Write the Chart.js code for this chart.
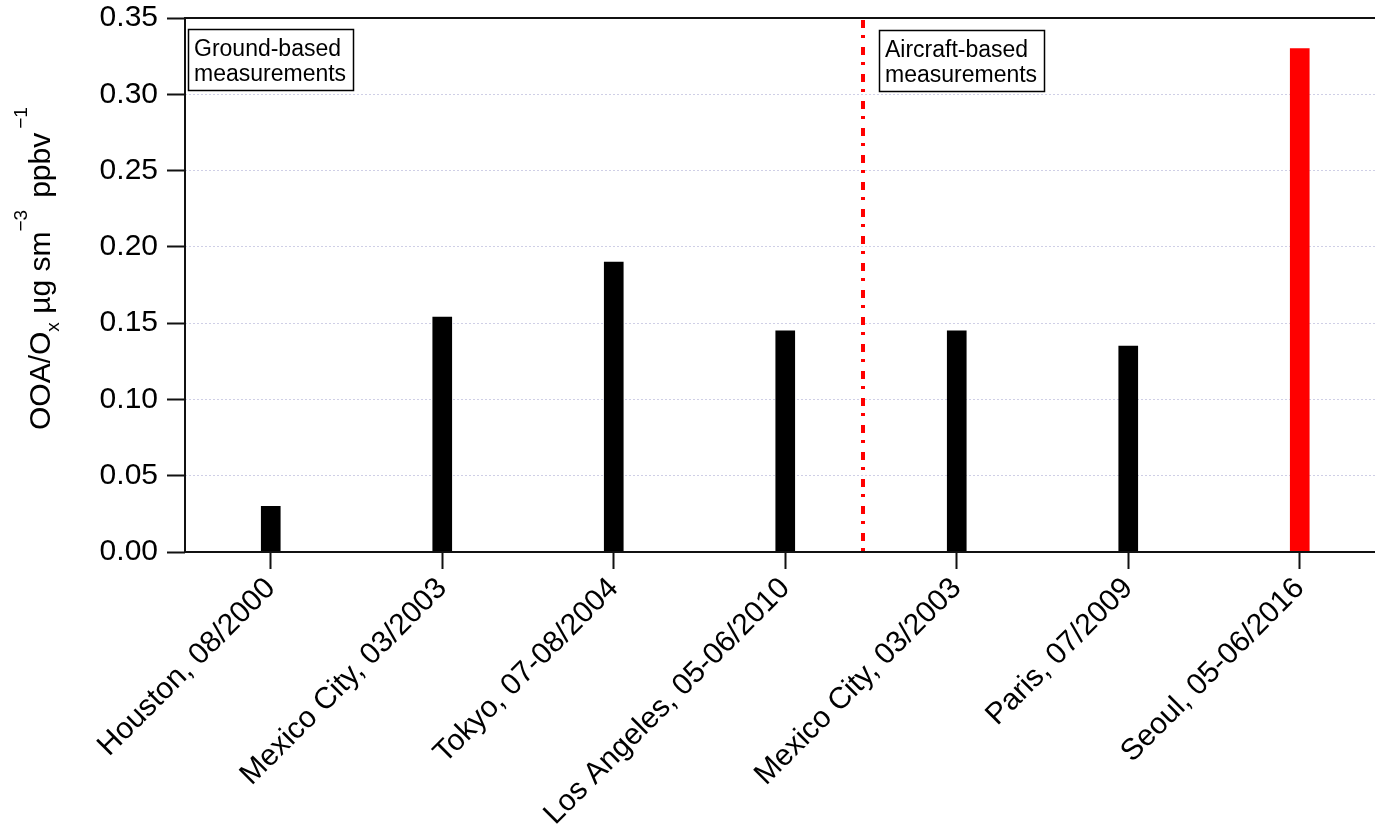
<!DOCTYPE html>
<html>
<head>
<meta charset="utf-8">
<script src="https://cdn.jsdelivr.net/npm/chart.js@4.4.1/dist/chart.umd.min.js"></script>
<style>
  html, body { margin: 0; padding: 0; background: #fff; overflow: hidden; }
  #wrap { width: 1390px; height: 828px; }
</style>
</head>
<body>
<div id="wrap"><canvas id="c" width="1390" height="828"></canvas></div>
<script>
// Campaigns (site, period)
const sites = [
  'Houston, 08/2000',
  'Mexico City, 03/2003',
  'Tokyo, 07-08/2004',
  'Los Angeles, 05-06/2010',
  'Mexico City, 03/2003',
  'Paris, 07/2009',
  'Seoul, 05-06/2016'
];
// OOA/Ox slope, µg sm^-3 ppbv^-1
const ratios = [0.030, 0.154, 0.190, 0.145, 0.145, 0.135, 0.330];
// value axis
const yMin = 0;
const yMax = 0.35;
const yStep = 0.05;
// groups: ground-based sites come first, then aircraft-based ones
const groundGroup = ['Ground-based', 'measurements'];
const aircraftGroup = ['Aircraft-based', 'measurements'];
const firstAircraft = 4;
const highlighted = 'Seoul, 05-06/2016';

const FONT = "'Liberation Sans', Arial, Helvetica, sans-serif";
const AXIS = '#111';

// axis frame: left, bottom and top lines
const framePlugin = {
  id: 'frame',
  afterDatasetsDraw(chart) {
    const { ctx, chartArea: a, width } = chart;
    ctx.save();
    ctx.strokeStyle = AXIS;
    ctx.lineWidth = 2;
    ctx.beginPath();
    ctx.moveTo(a.left, a.top); ctx.lineTo(a.left, a.bottom);
    ctx.moveTo(a.left - 1, a.top); ctx.lineTo(width, a.top);
    ctx.moveTo(a.left - 1, a.bottom); ctx.lineTo(width, a.bottom);
    ctx.stroke();
    ctx.restore();
  }
};

// dash-dot divider between ground and aircraft campaigns, plus group captions
const groupPlugin = {
  id: 'groups',
  afterDraw(chart) {
    const { ctx, chartArea: a } = chart;
    const x = chart.scales.x;
    const p0 = x.getPixelForValue(firstAircraft - 1);
    const p1 = x.getPixelForValue(firstAircraft);
    const xd = Math.round(p0 + 0.455 * (p1 - p0));
    ctx.save();
    ctx.strokeStyle = '#ff0000';
    ctx.lineWidth = 4;
    ctx.setLineDash([8, 7, 3, 9]);
    ctx.beginPath();
    ctx.moveTo(xd, a.top + 2);
    ctx.lineTo(xd, a.bottom);
    ctx.stroke();
    ctx.setLineDash([]);

    const box = (left, top, lines) => {
      ctx.font = '23px ' + FONT;
      const w = 165, h = 61;
      ctx.fillStyle = '#fff';
      ctx.fillRect(left, top, w, h);
      ctx.strokeStyle = '#000';
      ctx.lineWidth = 1.5;
      ctx.strokeRect(left + 0.5, top + 0.5, w, h);
      ctx.fillStyle = '#000';
      ctx.textBaseline = 'alphabetic';
      ctx.textAlign = 'left';
      ctx.fillText(lines[0], left + 6, top + 27);
      ctx.fillText(lines[1], left + 6, top + 52);
    };
    box(a.left + 3, a.top + 11, groundGroup);
    box(xd + 16, a.top + 12, aircraftGroup);
    ctx.restore();
  }
};

// rotated y-axis title with sub/superscripts
const yTitlePlugin = {
  id: 'ytitle',
  afterDraw(chart) {
    const { ctx } = chart;
    const parts = [
      { t: 'OOA/O', s: 30, dy: 0, gap: 0 },
      { t: 'x', s: 19, dy: 9, gap: 0 },
      { t: ' \u00b5g sm', s: 30, dy: 0, gap: 0 },
      { t: '\u22123', s: 19, dy: -23, gap: 0 },
      { t: 'ppbv', s: 30, dy: 0, gap: 12 },
      { t: '\u22121', s: 19, dy: -23, gap: 4 }
    ];
    ctx.save();
    ctx.translate(50, 430);
    ctx.rotate(-Math.PI / 2);
    ctx.fillStyle = '#000';
    ctx.textBaseline = 'alphabetic';
    ctx.textAlign = 'left';
    let cx = 0;
    for (const p of parts) {
      cx += p.gap;
      ctx.font = p.s + 'px ' + FONT;
      ctx.fillText(p.t, cx, p.dy);
      cx += ctx.measureText(p.t).width;
    }
    ctx.restore();
  }
};

const isEdge = v => Math.abs(v - yMin) < 1e-9 || Math.abs(v - yMax) < 1e-9;

new Chart(document.getElementById('c'), {
  type: 'bar',
  data: {
    labels: sites,
    datasets: [{
      data: ratios,
      backgroundColor: ctx => sites[ctx.dataIndex] === highlighted ? '#ff0000' : '#000000',
      borderWidth: 0,
      barThickness: 19
    }]
  },
  options: {
    responsive: false,
    animation: false,
    devicePixelRatio: 1,
    layout: { padding: { top: 18, right: 4.5, left: 0, bottom: 0 } },
    plugins: { legend: { display: false }, tooltip: { enabled: false } },
    scales: {
      x: {
        offset: true,
        grid: {
          offset: false,
          drawOnChartArea: false,
          drawTicks: true,
          tickLength: 17,
          tickWidth: 2,
          tickColor: AXIS
        },
        border: { display: false },
        ticks: {
          autoSkip: false,
          maxRotation: 45,
          minRotation: 45,
          padding: 2,
          color: '#000',
          font: { family: FONT, size: 30 }
        },
        afterFit(s) { s.height = 828 - 552; s.paddingLeft = 0; s.paddingRight = 0; }
      },
      y: {
        min: yMin,
        max: yMax,
        ticks: {
          stepSize: yStep,
          padding: 9,
          color: '#000',
          font: { family: FONT, size: 30 },
          callback: v => Number(v).toFixed(2)
        },
        grid: {
          color: ctx => isEdge(ctx.tick.value) ? 'rgba(0,0,0,0)' : '#cfcfe6',
          lineWidth: 1,
          tickLength: 18,
          tickWidth: 2,
          tickColor: AXIS
        },
        border: { display: false, dash: [2, 2] },
        afterFit(s) { s.width = 185; s.paddingTop = 0; s.paddingBottom = 0; }
      }
    }
  },
  plugins: [framePlugin, groupPlugin, yTitlePlugin]
});
</script>
</body>
</html>
